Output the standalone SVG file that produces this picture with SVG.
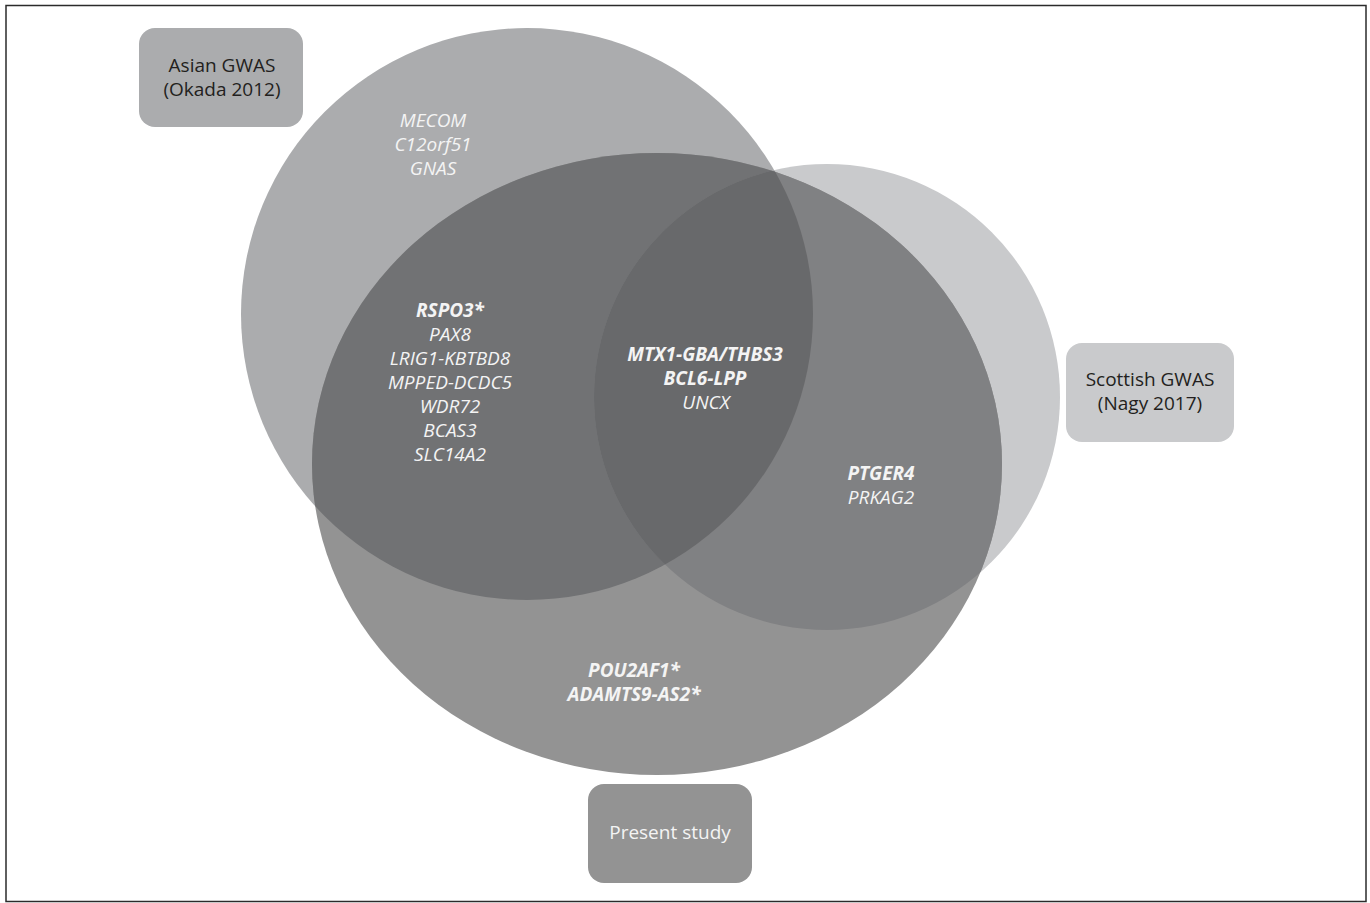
<svg xmlns="http://www.w3.org/2000/svg" width="1370" height="903" viewBox="0 0 1370 903">
  <style>
    .gene { font-family: "Open Sans", "Noto Sans", "Liberation Sans", sans-serif; font-size: 19px; font-style: italic; fill: #f4f4f4; text-anchor: middle; }
    .b { font-weight: bold; }
    .lbl { font-family: "Open Sans", "Noto Sans", "Liberation Sans", sans-serif; font-size: 19px; fill: #231f20; text-anchor: middle; }
  </style>
  <defs>
    <clipPath id="clipA"><circle cx="527" cy="314" r="286"/></clipPath>
    <clipPath id="clipS"><circle cx="827" cy="397" r="233"/></clipPath>
    <clipPath id="clipP"><ellipse cx="657" cy="464" rx="345" ry="311"/></clipPath>
  </defs>
  <rect x="0" y="0" width="1370" height="903" fill="#ffffff"/>
  <rect x="6" y="5.5" width="1360" height="896" fill="none" stroke="#2b2b2b" stroke-width="1.5"/>

  <g id="asian-gwas">
    <circle cx="527" cy="314" r="286" fill="#abacae"/>
    <rect x="139" y="28" width="164" height="99" rx="16" fill="#abacae"/>
    <text class="lbl" x="222" y="72">Asian GWAS</text>
    <text class="lbl" x="222" y="96">(Okada 2012)</text>
  </g>

  <g id="scottish-gwas">
    <circle cx="827" cy="397" r="233" fill="#c9cacc"/>
    <circle cx="827" cy="397" r="233" fill="#9d9ea0" clip-path="url(#clipA)"/>
    <rect x="1066" y="343" width="168" height="99" rx="16" fill="#c9cacc"/>
    <text class="lbl" x="1150" y="386">Scottish GWAS</text>
    <text class="lbl" x="1150" y="410">(Nagy 2017)</text>
  </g>

  <g id="present-study">
    <ellipse cx="657" cy="464" rx="345" ry="311" fill="#939393"/>
    <circle cx="527" cy="314" r="286" fill="#717274" clip-path="url(#clipP)"/>
    <circle cx="827" cy="397" r="233" fill="#808183" clip-path="url(#clipP)"/>
    <g clip-path="url(#clipP)">
      <circle cx="827" cy="397" r="233" fill="#68696b" clip-path="url(#clipA)"/>
    </g>
    <rect x="588" y="784" width="164" height="99" rx="16" fill="#939393"/>
    <text class="lbl" x="670" y="839" style="fill:#f4f4f4">Present study</text>
  </g>

  <g id="connectors"/>

  <g id="asian-only-genes">
    <text class="gene" x="433" y="127">MECOM</text>
    <text class="gene" x="433" y="151">C12orf51</text>
    <text class="gene" x="433" y="175">GNAS</text>
  </g>

  <g id="asian-present-genes">
    <text class="gene b" x="450" y="317">RSPO3*</text>
    <text class="gene" x="450" y="341">PAX8</text>
    <text class="gene" x="450" y="365">LRIG1-KBTBD8</text>
    <text class="gene" x="450" y="389">MPPED-DCDC5</text>
    <text class="gene" x="450" y="413">WDR72</text>
    <text class="gene" x="450" y="437">BCAS3</text>
    <text class="gene" x="450" y="461">SLC14A2</text>
  </g>

  <g id="all-three-genes">
    <text class="gene b" x="705" y="361">MTX1-GBA/THBS3</text>
    <text class="gene b" x="705" y="385">BCL6-LPP</text>
    <text class="gene" x="706" y="409">UNCX</text>
  </g>

  <g id="present-scottish-genes">
    <text class="gene b" x="881" y="480">PTGER4</text>
    <text class="gene" x="881" y="504">PRKAG2</text>
  </g>

  <g id="present-only-genes">
    <text class="gene b" x="634" y="677">POU2AF1*</text>
    <text class="gene b" x="634" y="701">ADAMTS9-AS2*</text>
  </g>
</svg>
